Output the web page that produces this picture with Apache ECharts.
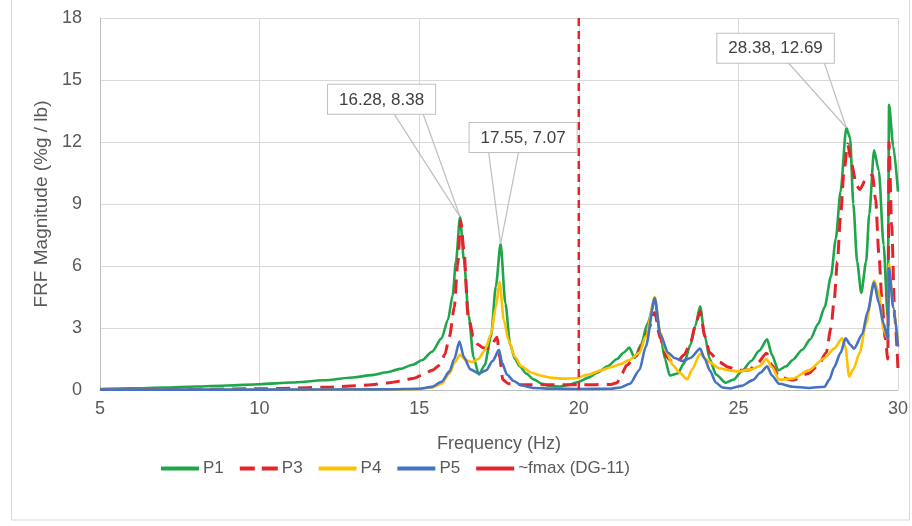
<!DOCTYPE html>
<html>
<head>
<meta charset="utf-8">
<script src="https://cdn.jsdelivr.net/npm/echarts@6/dist/echarts.min.js"></script>
<style>
  html, body { margin: 0; padding: 0; background: #ffffff; }
  #chart { width: 912px; height: 526px; }
</style>
</head>
<body>
<div id="chart"></div>
<script>
// FRF magnitude (%g / lb) against frequency (Hz) for each measurement point
const p1Freq = [5, 6, 7, 8, 9, 10, 11, 12, 13, 13.5, 14, 14.4, 14.8, 15.1, 15.4, 15.7, 15.9, 16.05, 16.15, 16.28, 16.4, 16.55, 16.7, 16.87, 17.05, 17.25, 17.4, 17.55, 17.7, 17.85, 18.0, 18.15, 18.35, 18.6, 18.85, 19.1, 19.4, 19.7, 20.0, 20.3, 20.6, 20.9, 21.2, 21.4, 21.58, 21.75, 21.95, 22.15, 22.38, 22.55, 22.7, 22.85, 23.1, 23.3, 23.5, 23.65, 23.8, 23.95, 24.1, 24.3, 24.6, 24.85, 25.1, 25.4, 25.65, 25.9, 26.05, 26.25, 26.5, 26.7, 27.0, 27.25, 27.5, 27.7, 27.9, 28.05, 28.2, 28.38, 28.5, 28.6, 28.72, 28.85, 29.0, 29.1, 29.25, 29.4, 29.55, 29.68, 29.72, 29.85, 30];
const p1Mag  = [0.05, 0.08, 0.12, 0.17, 0.22, 0.28, 0.36, 0.47, 0.62, 0.72, 0.86, 1.02, 1.22, 1.45, 1.85, 2.5, 3.4, 4.6, 6.2, 8.38, 6.3, 3.6, 1.6, 0.75, 1.2, 2.6, 5.0, 7.07, 4.2, 2.2, 1.5, 1.15, 0.8, 0.5, 0.3, 0.18, 0.17, 0.25, 0.4, 0.6, 0.85, 1.15, 1.5, 1.8, 2.05, 1.55, 2.2, 3.2, 4.35, 2.7, 1.5, 0.7, 0.8, 1.3, 2.2, 3.1, 4.05, 2.6, 1.5, 0.75, 0.35, 0.5, 0.9, 1.4, 1.9, 2.45, 1.7, 0.95, 1.15, 1.45, 1.95, 2.45, 3.2, 4.0, 5.5, 7.3, 9.6, 12.69, 12.2, 9.0, 6.2, 4.7, 6.2, 8.5, 11.6, 10.6, 7.0, 3.5, 13.8, 11.8, 9.6];

const p3Freq = [5, 8, 10, 11, 12, 13, 13.5, 14, 14.4, 14.8, 15.1, 15.4, 15.64, 15.8, 15.95, 16.1, 16.2, 16.3, 16.4, 16.53, 16.7, 16.84, 17.0, 17.2, 17.44, 17.52, 17.62, 17.8, 18.2, 19, 20, 21.0, 21.2, 21.35, 21.5, 21.8, 22.0, 22.2, 22.38, 22.55, 22.75, 22.9, 23.1, 23.3, 23.5, 23.65, 23.8, 23.95, 24.1, 24.4, 24.7, 25.0, 25.34, 25.6, 25.88, 26.05, 26.28, 26.7, 27.2, 27.5, 27.75, 27.9, 28.0, 28.1, 28.2, 28.3, 28.42, 28.55, 28.7, 28.8, 29.0, 29.2, 29.3, 29.4, 29.5, 29.6, 29.68, 29.72, 29.8, 29.9, 30];
const p3Mag  = [0.02, 0.03, 0.06, 0.09, 0.13, 0.2, 0.26, 0.34, 0.42, 0.56, 0.72, 0.95, 1.2, 1.7, 2.6, 4.0, 6.0, 8.2, 6.8, 3.6, 2.6, 2.2, 2.05, 2.0, 2.55, 1.6, 0.5, 0.3, 0.26, 0.25, 0.25, 0.27, 0.35, 0.8, 1.2, 1.65, 2.2, 3.0, 3.75, 2.5, 1.6, 1.4, 1.4, 1.7, 2.3, 3.1, 3.8, 2.6, 1.8, 1.35, 1.1, 0.95, 0.97, 1.3, 1.78, 1.2, 0.62, 0.48, 0.8, 1.2, 1.8, 3.0, 4.35, 6.2, 8.4, 10.4, 11.9, 10.9, 9.9, 9.7, 10.2, 10.4, 9.2, 6.6, 4.3, 2.5, 1.5, 12.0, 8.0, 3.5, 1.0];

const p4Freq = [5, 10, 14, 15, 15.4, 15.7, 15.95, 16.1, 16.28, 16.45, 16.65, 16.85, 17.05, 17.25, 17.4, 17.52, 17.65, 17.8, 18.0, 18.2, 18.5, 18.8, 19.1, 19.5, 19.9, 20.3, 20.7, 21.0, 21.3, 21.58, 21.9, 22.1, 22.38, 22.55, 22.75, 22.95, 23.15, 23.4, 23.55, 23.8, 23.95, 24.1, 24.4, 24.7, 25.0, 25.4, 25.65, 25.88, 26.05, 26.28, 26.7, 27.2, 27.7, 28.0, 28.25, 28.35, 28.47, 28.6, 28.8, 29.0, 29.25, 29.4, 29.55, 29.68, 29.72, 29.85, 30];
const p4Mag  = [0.01, 0.01, 0.02, 0.05, 0.12, 0.3, 0.8, 1.3, 1.7, 1.45, 1.35, 1.5, 1.9, 2.7, 4.0, 5.25, 3.4, 2.4, 1.6, 1.15, 0.85, 0.7, 0.6, 0.55, 0.57, 0.75, 0.95, 1.1, 1.25, 1.45, 1.8, 2.6, 4.5, 2.8, 1.8, 1.2, 0.85, 0.52, 1.0, 1.75, 1.55, 1.35, 1.05, 0.95, 0.9, 1.0, 1.15, 1.5, 1.1, 0.5, 0.55, 0.95, 1.55, 2.0, 2.5, 2.1, 0.65, 1.0, 1.8, 3.2, 5.3, 4.7, 2.9, 2.5, 6.1, 4.0, 2.3];

const p5Freq = [5, 10, 14, 15, 15.4, 15.7, 15.95, 16.1, 16.26, 16.4, 16.6, 16.87, 17.1, 17.3, 17.5, 17.6, 17.75, 17.95, 18.2, 18.6, 19.2, 20, 21.0, 21.3, 21.6, 21.9, 22.1, 22.38, 22.55, 22.8, 23.0, 23.25, 23.5, 23.8, 23.95, 24.1, 24.3, 24.5, 24.75, 25.1, 25.45, 25.7, 25.9, 26.05, 26.28, 26.7, 27.2, 27.7, 27.85, 28.0, 28.2, 28.36, 28.5, 28.62, 28.88, 29.05, 29.25, 29.4, 29.55, 29.68, 29.72, 29.85, 30];
const p5Mag  = [0.02, 0.02, 0.03, 0.06, 0.15, 0.4, 0.9, 1.5, 2.35, 1.6, 1.0, 0.8, 0.95, 1.4, 1.95, 1.3, 0.75, 0.45, 0.22, 0.1, 0.06, 0.05, 0.06, 0.12, 0.3, 0.97, 2.1, 4.45, 2.7, 1.8, 1.55, 1.4, 1.55, 2.0, 1.5, 0.95, 0.35, 0.12, 0.08, 0.2, 0.48, 0.85, 1.15, 0.7, 0.3, 0.16, 0.1, 0.16, 0.5, 1.1, 1.8, 2.5, 2.2, 2.0, 2.7, 3.8, 5.2, 4.2, 3.2, 2.5, 5.9, 4.0, 2.1];

// Approximate upper frequency limit
const fmaxHz = 20;

// Peak read-outs on P1
const calloutFreq = [16.28, 17.55, 28.38];
const calloutMag  = [8.38, 7.07, 12.69];
// Read-out box placement relative to the peak: [box left, box top, wedge base A, wedge base B] in px
const calloutLayout = [[-132, -132, -66, -37], [-31, -121, -12, 18], [-129, -94, -58, -22]];

const seriesNames = ['P1', 'P3', 'P4', 'P5', '~fmax (DG-11)'];

const FONT = '"Liberation Sans", Arial, sans-serif';
const TEXT_COLOR = '#595959';
const GRID_COLOR = '#d9d9d9';
const GREEN = '#1fa64b';
const RED = '#e3242b';
const YELLOW = '#ffc000';
const BLUE = '#4472c4';

// Legend keys: a solid bar, or two dashes for the dashed series
const ICON_SOLID = 'path://M0,0h38v4h-38z';
const ICON_DASHED = 'path://M0,0h15v4h-15z M22,0h16v4h-16z';

const zip = (xs, ys) => xs.map((x, i) => [x, ys[i]]);

const chart = echarts.init(document.getElementById('chart'), null, { renderer: 'canvas' });

const lineSeries = (name, xs, ys, color, lineType, width) => ({
  name,
  type: 'line',
  data: zip(xs, ys),
  showSymbol: false,
  symbol: 'none',
  smooth: 0.25,
  smoothMonotone: 'x',
  lineStyle: { color, width, type: lineType, cap: 'butt' },
  itemStyle: { color },
  emphasis: { disabled: true },
  animation: false,
  z: 3
});

const option = {
  backgroundColor: '#ffffff',
  animation: false,
  grid: { left: 100, right: 14, top: 18, bottom: 136, containLabel: false },
  graphic: [{
    type: 'rect',
    shape: { x: 11.5, y: -2, width: 898, height: 522 },
    style: { fill: 'none', stroke: '#d9d9d9', lineWidth: 1 },
    silent: true,
    z: -10
  }],
  xAxis: {
    type: 'value',
    min: 5,
    max: 30,
    interval: 5,
    name: 'Frequency (Hz)',
    nameLocation: 'middle',
    nameGap: 45,
    nameTextStyle: { fontFamily: FONT, fontSize: 18, color: TEXT_COLOR },
    axisLine: { show: true, lineStyle: { color: '#bfbfbf', width: 1 } },
    axisTick: { show: false },
    axisLabel: { fontFamily: FONT, fontSize: 18, color: TEXT_COLOR, margin: 10 },
    splitLine: { show: true, lineStyle: { color: GRID_COLOR, width: 1 } }
  },
  yAxis: {
    type: 'value',
    min: 0,
    max: 18,
    interval: 3,
    name: 'FRF Magnitude (%g / lb)',
    nameLocation: 'middle',
    nameGap: 47,
    nameRotate: 90,
    nameTextStyle: { fontFamily: FONT, fontSize: 19, color: TEXT_COLOR },
    axisLine: { show: true, lineStyle: { color: '#bfbfbf', width: 1 } },
    axisTick: { show: false },
    axisLabel: { fontFamily: FONT, fontSize: 18, color: TEXT_COLOR, margin: 18 },
    splitLine: { show: true, lineStyle: { color: GRID_COLOR, width: 1 } }
  },
  legend: {
    top: 455,
    left: 156,
    itemWidth: 38,
    itemHeight: 4,
    itemGap: 16,
    selectedMode: false,
    textStyle: { fontFamily: FONT, fontSize: 17, color: TEXT_COLOR, padding: [0, 0, 0, -1] },
    data: [
      { name: 'P1', icon: ICON_SOLID },
      { name: 'P3', icon: ICON_DASHED },
      { name: 'P4', icon: ICON_SOLID },
      { name: 'P5', icon: ICON_SOLID },
      { name: '~fmax (DG-11)', icon: ICON_SOLID }
    ]
  },
  series: [
    lineSeries(seriesNames[0], p1Freq, p1Mag, GREEN, 'solid', 2.6),
    lineSeries(seriesNames[1], p3Freq, p3Mag, RED, [14, 8], 3),
    lineSeries(seriesNames[2], p4Freq, p4Mag, YELLOW, 'solid', 2.6),
    lineSeries(seriesNames[3], p5Freq, p5Mag, BLUE, 'solid', 2.6),
    {
      name: seriesNames[4],
      type: 'line',
      data: [[fmaxHz, 0], [fmaxHz, 18]],
      showSymbol: false,
      symbol: 'none',
      lineStyle: { color: RED, width: 2.5, type: [8, 5] },
      itemStyle: { color: RED },
      emphasis: { disabled: true },
      z: 4
    },
    {
      name: 'peaks',
      type: 'custom',
      coordinateSystem: 'cartesian2d',
      clip: false,
      silent: true,
      z: 10,
      data: zip(calloutFreq, calloutMag),
      encode: { x: 0, y: 1 },
      renderItem(params, api) {
        const i = params.dataIndex;
        const f = api.value(0);
        const v = api.value(1);
        const pt = api.coord([f, v]);
        const L = calloutLayout[i];
        const boxX = pt[0] + L[0];
        const boxY = pt[1] + L[1];
        const boxH = 29;
        const text = f.toFixed(2) + ', ' + v.toFixed(2);
        const wedge = (dx) => ({
          type: 'line',
          shape: { x1: pt[0] + dx, y1: boxY + boxH, x2: pt[0], y2: pt[1] },
          style: { stroke: '#bfbfbf', lineWidth: 1.2 }
        });
        return {
          type: 'group',
          children: [
            wedge(L[2]),
            wedge(L[3]),
            {
              type: 'text',
              x: boxX,
              y: boxY,
              style: {
                text,
                font: '17px ' + FONT,
                fill: '#404040',
                align: 'left',
                verticalAlign: 'top',
                lineHeight: 20,
                backgroundColor: '#ffffff',
                borderColor: '#bfbfbf',
                borderWidth: 1,
                padding: [5, 11, 4, 11]
              }
            }
          ]
        };
      }
    }
  ]
};

chart.setOption(option);
</script>
</body>
</html>
